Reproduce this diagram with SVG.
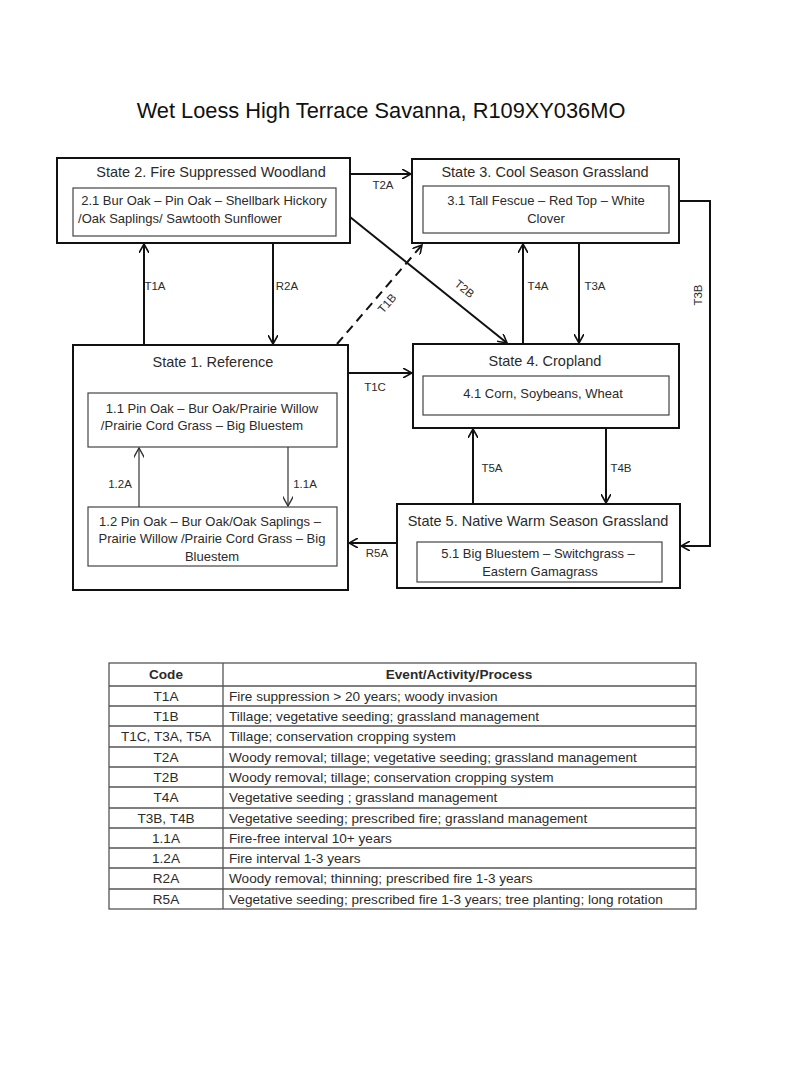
<svg xmlns="http://www.w3.org/2000/svg" width="800" height="1065" viewBox="0 0 800 1065">
<defs>
<style>
text{font-family:"Liberation Sans",Arial,sans-serif;fill:#2b2b2b}
.title{font-size:21.8px;fill:#111}
.st{font-size:14.5px;text-anchor:middle}
.in{font-size:13px;text-anchor:middle}
.lb{font-size:11.5px;text-anchor:middle}
.tb{font-size:13.6px}
.tc{text-anchor:middle}
.outer{fill:#fff;stroke:#111;stroke-width:2}
.inner{fill:#fff;stroke:#444;stroke-width:1.2}
.ln{fill:none;stroke:#111;stroke-width:2}
.thin{fill:none;stroke:#333;stroke-width:1.2}
.grid{stroke:#555;stroke-width:1.3;fill:none}
</style>
<marker id="ah" viewBox="0 0 10 10" refX="9" refY="5" markerWidth="5" markerHeight="5" markerUnits="strokeWidth" orient="auto">
<path d="M0,0 L9,5 L0,10" fill="none" stroke="#111" stroke-width="1.6"/>
</marker>
<marker id="ahs" viewBox="0 0 10 10" refX="9" refY="5" markerWidth="9" markerHeight="9" markerUnits="strokeWidth" orient="auto">
<path d="M0,0 L9,5 L0,10" fill="none" stroke="#333" stroke-width="1.3"/>
</marker>
</defs>
<rect width="800" height="1065" fill="#fff"/>
<text class="title" x="381" y="118" text-anchor="middle">Wet Loess High Terrace Savanna, R109XY036MO</text>

<g id="connectors">
<line class="ln" x1="350" y1="174" x2="411" y2="174" marker-end="url(#ah)"/>
<line class="ln" x1="350" y1="217" x2="507" y2="343" marker-end="url(#ah)"/>
<line class="ln" x1="144" y1="345" x2="144" y2="244" marker-end="url(#ah)"/>
<line class="ln" x1="273" y1="243" x2="273" y2="344" marker-end="url(#ah)"/>
<line class="ln" x1="337" y1="344" x2="422" y2="245" stroke-dasharray="9,6" marker-end="url(#ah)"/>
<line class="ln" x1="523" y1="344" x2="523" y2="244" marker-end="url(#ah)"/>
<line class="ln" x1="579" y1="243" x2="579" y2="343" marker-end="url(#ah)"/>
<polyline class="ln" points="679,201 710,201 710,546 681,546" marker-end="url(#ah)"/>
<line class="ln" x1="348" y1="373" x2="412" y2="373" marker-end="url(#ah)"/>
<line class="ln" x1="473" y1="504" x2="473" y2="429" marker-end="url(#ah)"/>
<line class="ln" x1="606" y1="428" x2="606" y2="503" marker-end="url(#ah)"/>
<line class="ln" x1="397" y1="543" x2="349" y2="543" marker-end="url(#ah)"/>
<text class="lb" x="383" y="189">T2A</text>
<text class="lb" x="155" y="290">T1A</text>
<text class="lb" x="287" y="290">R2A</text>
<text class="lb" transform="translate(390,306) rotate(-49)">T1B</text>
<text class="lb" transform="translate(462,292) rotate(39)">T2B</text>
<text class="lb" x="538" y="290">T4A</text>
<text class="lb" x="595" y="290">T3A</text>
<text class="lb" transform="translate(702,295) rotate(-90)">T3B</text>
<text class="lb" x="375" y="391">T1C</text>
<text class="lb" x="377" y="557">R5A</text>
<text class="lb" x="492" y="472">T5A</text>
<text class="lb" x="621" y="472">T4B</text>
</g>

<g id="state2">
<rect class="outer" x="57" y="158" width="293" height="85"/>
<text class="st" x="211" y="177">State 2. Fire Suppressed Woodland</text>
<rect class="inner" x="73" y="188" width="263" height="48"/>
<text class="in" x="204" y="205">2.1 Bur Oak – Pin Oak – Shellbark Hickory</text>
<text class="in" x="180" y="223">/Oak Saplings/ Sawtooth Sunflower</text>
</g>

<g id="state3">
<rect class="outer" x="412" y="159" width="267" height="84"/>
<text class="st" x="545" y="177">State 3. Cool Season Grassland</text>
<rect class="inner" x="423" y="186" width="246" height="47"/>
<text class="in" x="546" y="205">3.1 Tall Fescue – Red Top – White</text>
<text class="in" x="546" y="223">Clover</text>
</g>

<g id="state1">
<rect class="outer" x="73" y="345" width="275" height="245"/>
<text class="st" x="213" y="367">State 1. Reference</text>
<g id="phase11">
<rect class="inner" x="88" y="393" width="249" height="54"/>
<text class="in" x="212" y="413">1.1 Pin Oak – Bur Oak/Prairie Willow</text>
<text class="in" x="202" y="430">/Prairie Cord Grass – Big Bluestem</text>
</g>
<g id="phase12">
<rect class="inner" x="88" y="507" width="249" height="59"/>
<text class="in" x="210" y="526">1.2 Pin Oak – Bur Oak/Oak Saplings –</text>
<text class="in" x="212" y="543">Prairie Willow /Prairie Cord Grass – Big</text>
<text class="in" x="212" y="561">Bluestem</text>
</g>
<g id="phase-connectors">
<line class="thin" x1="139" y1="507" x2="139" y2="448" marker-end="url(#ahs)"/>
<line class="thin" x1="288" y1="447" x2="288" y2="506" marker-end="url(#ahs)"/>
<text class="lb" x="120" y="488">1.2A</text>
<text class="lb" x="305" y="488">1.1A</text>
</g>
</g>

<g id="state4">
<rect class="outer" x="413" y="344" width="266" height="84"/>
<text class="st" x="545" y="366">State 4. Cropland</text>
<rect class="inner" x="423" y="376" width="246" height="39"/>
<text class="in" x="543" y="398">4.1 Corn, Soybeans, Wheat</text>
</g>

<g id="state5">
<rect class="outer" x="397" y="504" width="283" height="84"/>
<text class="st" x="538" y="526">State 5. Native Warm Season Grassland</text>
<rect class="inner" x="417" y="542" width="245" height="40"/>
<text class="in" x="538" y="558">5.1 Big Bluestem – Switchgrass –</text>
<text class="in" x="540" y="576">Eastern Gamagrass</text>
</g>

<g id="table">
<rect class="grid" x="109" y="663" width="587" height="246" stroke-width="1.6"/>
<line class="grid" x1="223" y1="663" x2="223" y2="909"/>
<path class="grid" d="M109,686H696M109,706H696M109,726H696M109,747H696M109,767H696M109,787H696M109,808H696M109,828H696M109,848H696M109,868H696M109,889H696"/>
<text class="tb tc" x="166" y="679" font-weight="bold" font-size="12.5">Code</text>
<text class="tb tc" x="459" y="679" font-weight="bold" font-size="12.5">Event/Activity/Process</text>
<text class="tb tc" x="166" y="701">T1A</text>
<text class="tb" x="229" y="701">Fire suppression &gt; 20 years; woody invasion</text>
<text class="tb tc" x="166" y="721">T1B</text>
<text class="tb" x="229" y="721">Tillage; vegetative  seeding; grassland management</text>
<text class="tb tc" x="166" y="741">T1C, T3A, T5A</text>
<text class="tb" x="229" y="741">Tillage; conservation cropping system</text>
<text class="tb tc" x="166" y="762">T2A</text>
<text class="tb" x="229" y="762">Woody removal; tillage; vegetative  seeding; grassland management</text>
<text class="tb tc" x="166" y="782">T2B</text>
<text class="tb" x="229" y="782">Woody removal; tillage; conservation cropping system</text>
<text class="tb tc" x="166" y="802">T4A</text>
<text class="tb" x="229" y="802">Vegetative  seeding ; grassland management</text>
<text class="tb tc" x="166" y="823">T3B, T4B</text>
<text class="tb" x="229" y="823">Vegetative  seeding; prescribed fire; grassland management</text>
<text class="tb tc" x="166" y="843">1.1A</text>
<text class="tb" x="229" y="843">Fire-free interval 10+ years</text>
<text class="tb tc" x="166" y="863">1.2A</text>
<text class="tb" x="229" y="863">Fire interval 1-3 years</text>
<text class="tb tc" x="166" y="883">R2A</text>
<text class="tb" x="229" y="883">Woody removal; thinning; prescribed fire 1-3 years</text>
<text class="tb tc" x="166" y="904">R5A</text>
<text class="tb" x="229" y="904">Vegetative  seeding; prescribed fire 1-3 years; tree  planting; long rotation</text>
</g>
</svg>
